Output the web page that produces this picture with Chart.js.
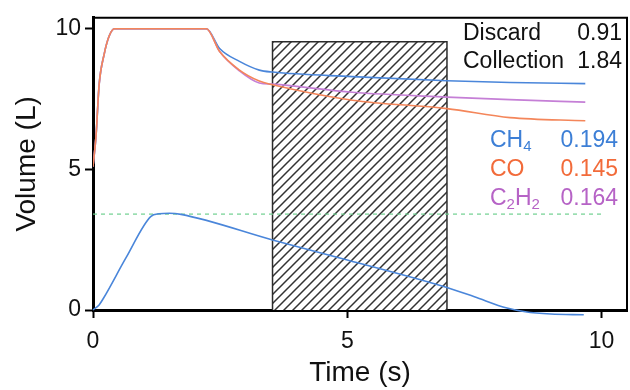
<!DOCTYPE html>
<html>
<head>
<meta charset="utf-8">
<script src="https://cdn.jsdelivr.net/npm/chart.js@4/dist/chart.umd.min.js"></script>
<style>
  body { margin: 0; background: #fff; }
  #wrap { width: 630px; height: 390px; }
</style>
</head>
<body>
<div id="wrap"><canvas id="volChart" width="630" height="390"></canvas></div>
<script>
// time axis (s) for the three gas volume curves
const timeVol = [0, 0.06, 0.12, 0.22, 0.32, 0.42, 1.2, 2.23, 2.49, 2.88, 3.27, 3.53, 5.1, 6.96, 8.2, 9.68];
const ch4Vol  = [5.1, 6.2, 8.0, 9.1, 9.75, 10, 10, 10, 9.3, 8.84, 8.53, 8.46, 8.3, 8.15, 8.09, 8.05];
const coVol   = [5.1, 6.2, 8.0, 9.1, 9.75, 10, 10, 10, 9.19, 8.53, 8.14, 8.01, 7.46, 7.16, 6.84, 6.73];
const c2h2Vol = [5.1, 6.2, 8.0, 9.1, 9.75, 10, 10, 10, 9.19, 8.5, 8.07, 8.03, 7.74, 7.57, 7.48, 7.39];

// lower blue curve
const timeFlow = [0, 0.12, 0.2, 0.65, 1.14, 1.3, 1.5, 1.73, 3.53, 5.0, 6.96, 7.5, 8.14, 8.5, 9.0, 9.65];
const flowVal  = [0, 0.18, 0.4, 1.86, 3.33, 3.42, 3.44, 3.4, 2.49, 1.78, 0.8, 0.47, 0.07, -0.06, -0.14, -0.17];

// green dashed level
const guideX = [0, 10];
const guideY = [3.41, 3.41];

// hatched collection window
const zoneX = [3.53, 6.96];
const zoneTop = 9.54;

const xTicks = [0, 5, 10];
const yTicks = [0, 5, 10];

// text values
const discardVal = '0.91';
const collectionVal = '1.84';
const gasNames = [['CH', '4'], ['CO'], ['C', '2', 'H', '2']]; // odd parts are subscripts
const gasValues = ['0.194', '0.145', '0.164'];
const gasColors = ['#3d7fd6', '#f26b3a', '#b663c6'];

const FONT = '"Liberation Sans", Arial, Helvetica, sans-serif';

function pts(xs, ys) {
  return xs.map((x, i) => ({ x: x, y: ys[i] }));
}

// diagonal hatch pattern
function hatch() {
  const s = 9;
  const c = document.createElement('canvas');
  c.width = s; c.height = s;
  const g = c.getContext('2d');
  g.fillStyle = '#fff';
  g.fillRect(0, 0, s, s);
  g.strokeStyle = '#333';
  g.lineWidth = 1.5;
  g.beginPath();
  g.moveTo(0, s); g.lineTo(s, 0);
  g.moveTo(-1, 1); g.lineTo(1, -1);
  g.moveTo(s - 1, s + 1); g.lineTo(s + 1, s - 1);
  g.stroke();
  return g.createPattern(c, 'repeat');
}

// frame top/right + text block
const extras = {
  id: 'extras',
  afterDraw(chart) {
    const { ctx, chartArea: a } = chart;
    ctx.save();
    ctx.strokeStyle = '#000';
    ctx.lineWidth = 2;
    ctx.beginPath();
    ctx.moveTo(a.left, a.top);
    ctx.lineTo(a.right, a.top);
    ctx.lineTo(a.right, a.bottom);
    ctx.stroke();

    ctx.font = '23px ' + FONT;
    ctx.textBaseline = 'alphabetic';
    ctx.fillStyle = '#111';
    ctx.textAlign = 'left';
    ctx.fillText('Discard', 463, 40);
    ctx.fillText('Collection', 463, 68);
    ctx.textAlign = 'right';
    ctx.fillText(discardVal, 622, 40);
    ctx.fillText(collectionVal, 622, 68);

    gasNames.forEach((parts, i) => {
      const base = 147 + i * 29;
      let x = 490;
      ctx.fillStyle = gasColors[i];
      ctx.textAlign = 'left';
      parts.forEach((p, j) => {
        const sub = j % 2 === 1;
        ctx.font = (sub ? '15px ' : '23px ') + FONT;
        ctx.fillText(p, x, base + (sub ? 4 : 0));
        x += ctx.measureText(p).width;
      });
      ctx.font = '23px ' + FONT;
      ctx.textAlign = 'right';
      ctx.fillText(gasValues[i], 618, base);
    });
    ctx.restore();
  }
};

const ctx = document.getElementById('volChart').getContext('2d');
const volChart = new Chart(ctx, {
  type: 'line',
  data: {
    datasets: [
      {
        label: 'CH4',
        data: pts(timeVol, ch4Vol),
        borderColor: '#4a86da',
        borderWidth: 1.6,
        cubicInterpolationMode: 'monotone',
        order: 3
      },
      {
        label: 'C2H2',
        data: pts(timeVol, c2h2Vol),
        borderColor: '#c57fd6',
        borderWidth: 1.6,
        cubicInterpolationMode: 'monotone',
        order: 2
      },
      {
        label: 'CO',
        data: pts(timeVol, coVol),
        borderColor: '#f4865a',
        borderWidth: 1.6,
        cubicInterpolationMode: 'monotone',
        order: 1
      },
      {
        label: 'flow',
        data: pts(timeFlow, flowVal),
        borderColor: '#4a86da',
        borderWidth: 1.6,
        cubicInterpolationMode: 'monotone',
        clip: false,
        order: 1
      },
      {
        label: 'level',
        data: pts(guideX, guideY),
        borderColor: '#6fd08f',
        borderWidth: 1.2,
        borderDash: [4, 4],
        order: 4
      },
      {
        label: 'window outline',
        data: [
          { x: zoneX[0], y: 0 }, { x: zoneX[0], y: zoneTop },
          { x: zoneX[1], y: zoneTop }, { x: zoneX[1], y: 0 }
        ],
        borderColor: '#2b2b2b',
        borderWidth: 1.5,
        fill: false,
        order: 9
      },
      {
        label: 'window',
        data: pts(zoneX, [zoneTop, zoneTop]),
        borderWidth: 0,
        borderColor: 'rgba(0,0,0,0)',
        backgroundColor: hatch(),
        fill: 'origin',
        order: 10
      }
    ]
  },
  options: {
    responsive: false,
    animation: false,
    layout: { padding: { top: 14, right: 3 } },
    elements: { point: { radius: 0 }, line: { tension: 0 } },
    plugins: { legend: { display: false }, tooltip: { enabled: false } },
    scales: {
      x: {
        type: 'linear',
        min: 0,
        max: 10.5,
        afterBuildTicks: s => { s.ticks = xTicks.map(v => ({ value: v })); },
        afterFit: s => { s.height = 80; },
        grid: { drawOnChartArea: false, tickLength: 8, tickWidth: 2, tickColor: '#000' },
        border: { display: true, width: 3, color: '#000' },
        ticks: { color: '#111', padding: 10, font: { family: FONT, size: 23 } },
        title: {
          display: true,
          text: 'Time (s)',
          color: '#111',
          padding: { top: 0, bottom: 0 },
          font: { family: FONT, size: 28 }
        }
      },
      y: {
        min: 0,
        max: 10.39,
        afterBuildTicks: s => { s.ticks = yTicks.map(v => ({ value: v })); },
        afterFit: s => { s.width = 93; },
        grid: { drawOnChartArea: false, tickLength: 8, tickWidth: 2, tickColor: '#000' },
        border: { display: true, width: 3, color: '#000' },
        ticks: { color: '#111', padding: 4, font: { family: FONT, size: 23 } },
        title: {
          display: true,
          text: 'Volume (L)',
          color: '#111',
          padding: { top: 10, bottom: 0 },
          font: { family: FONT, size: 28 }
        }
      }
    }
  },
  plugins: [extras]
});
</script>
</body>
</html>
